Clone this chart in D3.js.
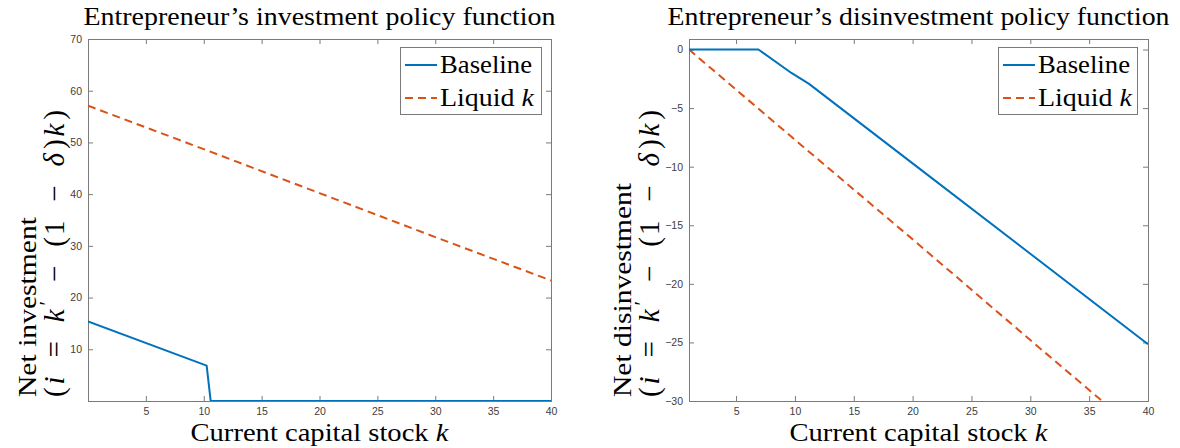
<!DOCTYPE html>
<html>
<head>
<meta charset="utf-8">
<script src="https://cdn.jsdelivr.net/npm/d3@7"></script>
<style>
  html, body { margin: 0; padding: 0; background: #fff; }
  svg { display: block; }
</style>
</head>
<body>
<svg id="chart" width="1180" height="448"></svg>
<script>
// ---- Data ----
const invBaselineK = [0, 10.25, 10.6, 40];
const invBaselineV = [15.4, 6.85, 0, 0];
const invLiquidK = [0, 10, 20, 30, 40];
const invLiquidV = [57.1, 48.7, 40.2, 31.7, 23.3];

const disBaselineK = [1, 6.9, 9.7, 11.2, 20, 30, 40];
const disBaselineV = [0, 0, -2.0, -2.93, -9.72, -17.43, -25.15];
const disLiquidK = [1, 10, 20, 30, 36.1];
const disLiquidV = [0, -7.7, -16.2, -24.8, -30];

const xTicks = [5, 10, 15, 20, 25, 30, 35, 40];
const invYTicks = [10, 20, 30, 40, 50, 60, 70];
const disYTicks = [-30, -25, -20, -15, -10, -5, 0];

const seriesNames = ["Baseline", "Liquid"];
const colors = ["#0072BD", "#D95319"];

const svg = d3.select("#chart");
const serif = "'Liberation Serif', 'DejaVu Serif', serif";
const sans = "'Liberation Sans', Arial, sans-serif";
const fs = "26px";

function panel(cfg) {
  const g = svg.append("g");
  const x = d3.scaleLinear().domain(cfg.xDomain).range([cfg.left, cfg.right]);
  const y = d3.scaleLinear().domain(cfg.yDomain).range([cfg.bottom, cfg.top]);
  const clipId = "clip" + cfg.id;
  svg.append("clipPath").attr("id", clipId).append("rect")
    .attr("x", cfg.left).attr("y", cfg.top)
    .attr("width", cfg.right - cfg.left).attr("height", cfg.bottom - cfg.top);

  // axes
  const axColor = "#7a7a7a";
  const styleAxis = sel => {
    sel.select(".domain").remove();
    sel.selectAll(".tick line").attr("stroke", axColor).attr("stroke-width", 1);
    sel.selectAll(".tick text").attr("fill", "#404040")
      .style("font-family", sans).style("font-size", "10.5px");
  };
  g.append("g").attr("transform", `translate(0,${cfg.bottom})`)
    .call(d3.axisBottom(x).tickValues(xTicks).tickSize(-5).tickPadding(7).tickFormat(d3.format("d")))
    .call(styleAxis);
  g.append("g").attr("transform", `translate(0,${cfg.top})`)
    .call(d3.axisTop(x).tickValues(xTicks).tickSize(-5).tickFormat(""))
    .call(styleAxis);
  g.append("g").attr("transform", `translate(${cfg.left},0)`)
    .call(d3.axisLeft(y).tickValues(cfg.yTicks).tickSize(-5).tickPadding(6).tickFormat(d3.format("d")))
    .call(styleAxis);
  g.append("g").attr("transform", `translate(${cfg.right},0)`)
    .call(d3.axisRight(y).tickValues(cfg.yTicks).tickSize(-5).tickFormat(""))
    .call(styleAxis);
  g.append("rect").attr("x", cfg.left + 0.5).attr("y", cfg.top + 0.5)
    .attr("width", cfg.right - cfg.left).attr("height", cfg.bottom - cfg.top)
    .attr("fill", "none").attr("stroke", axColor).attr("stroke-width", 1);

  // lines
  const line = d3.line().x(d => x(d[0])).y(d => y(d[1]));
  const plot = g.append("g").attr("clip-path", `url(#${clipId})`);
  plot.append("path").datum(cfg.liquidK.map((k, i) => [k, cfg.liquidV[i]]))
    .attr("d", line).attr("fill", "none").attr("stroke", colors[1])
    .attr("stroke-width", 2).attr("stroke-dasharray", "8,5");
  plot.append("path").datum(cfg.baseK.map((k, i) => [k, cfg.baseV[i]]))
    .attr("d", line).attr("fill", "none").attr("stroke", colors[0])
    .attr("stroke-width", 2).attr("stroke-linejoin", "round");

  // title
  g.append("text").attr("x", (cfg.left + cfg.right) / 2).attr("y", 25)
    .attr("text-anchor", "middle").style("font-family", serif).style("font-size", fs)
    .attr("textLength", cfg.titleLen).attr("lengthAdjust", "spacingAndGlyphs")
    .attr("fill", "#000").text(cfg.title);

  // x label
  const xl = g.append("text").attr("x", (cfg.left + cfg.right) / 2).attr("y", 441)
    .attr("text-anchor", "middle").style("font-family", serif).style("font-size", fs)
    .attr("textLength", 258).attr("lengthAdjust", "spacingAndGlyphs");
  xl.append("tspan").text("Current capital stock ");
  xl.append("tspan").style("font-style", "italic").text("k");

  // y label (two lines, rotated, bottom-aligned)
  const yStart = 397;
  g.append("text").attr("transform", `translate(${cfg.yLabX1},${yStart}) rotate(-90)`)
    .attr("text-anchor", "start").style("font-family", serif).style("font-size", fs)
    .attr("textLength", cfg.yLab1Len).attr("lengthAdjust", "spacingAndGlyphs")
    .text(cfg.yLabel);
  const yl2 = g.append("text").attr("transform", `translate(${cfg.yLabX2},${yStart}) rotate(-90)`)
    .attr("text-anchor", "start").style("font-family", serif).style("font-size", "29px")
    .attr("textLength", 287).attr("lengthAdjust", "spacing");
  const sp = 17; // math spacing around operators
  yl2.append("tspan").text("(");
  yl2.append("tspan").attr("dx", 1).style("font-style", "italic").text("i");
  yl2.append("tspan").attr("dx", sp).text("=");
  yl2.append("tspan").attr("dx", sp).style("font-style", "italic").text("k");
  yl2.append("tspan").attr("dx", 2).attr("dy", -10).style("font-size", "21px").text("\u2032");
  yl2.append("tspan").attr("dx", sp).attr("dy", 10).text("\u2212");
  yl2.append("tspan").attr("dx", sp).text("(1");
  yl2.append("tspan").attr("dx", sp).text("\u2212");
  yl2.append("tspan").attr("dx", sp).style("font-style", "italic").text("\u03B4");
  yl2.append("tspan").attr("dx", 2).text(")");
  yl2.append("tspan").attr("dx", 1).style("font-style", "italic").text("k");
  yl2.append("tspan").attr("dx", 2).text(")");

  // legend
  const lg = g.append("g");
  lg.append("rect").attr("x", cfg.legX + 0.5).attr("y", cfg.legY + 0.5)
    .attr("width", cfg.legW).attr("height", 67)
    .attr("fill", "#fff").attr("stroke", axColor).attr("stroke-width", 1);
  seriesNames.forEach((name, i) => {
    const yy = cfg.legY + 18 + i * 33;
    lg.append("line").attr("x1", cfg.legX + 5).attr("x2", cfg.legX + 37)
      .attr("y1", yy).attr("y2", yy).attr("stroke", colors[i]).attr("stroke-width", 2)
      .attr("stroke-dasharray", i === 1 ? "8,5" : null);
    const t = lg.append("text").attr("x", cfg.legX + 40).attr("y", yy + 8)
      .style("font-family", serif).style("font-size", fs)
      .attr("textLength", i === 0 ? 92 : 94).attr("lengthAdjust", "spacingAndGlyphs");
    t.append("tspan").text(name);
    if (i === 1) t.append("tspan").style("font-style", "italic").text(" k");
  });
}

panel({
  id: "inv", left: 88, right: 551, top: 39, bottom: 401,
  xDomain: [0, 40], yDomain: [0, 70], yTicks: invYTicks,
  baseK: invBaselineK, baseV: invBaselineV, liquidK: invLiquidK, liquidV: invLiquidV,
  title: "Entrepreneur\u2019s investment policy function", titleLen: 472,
  yLabel: "Net investment", yLab1Len: 180, yLabX1: 36, yLabX2: 64,
  legX: 400, legY: 47, legW: 141
});
panel({
  id: "dis", left: 689, right: 1148, top: 39, bottom: 401,
  xDomain: [1, 40], yDomain: [-30, 0.9], yTicks: disYTicks,
  baseK: disBaselineK, baseV: disBaselineV, liquidK: disLiquidK, liquidV: disLiquidV,
  title: "Entrepreneur\u2019s disinvestment policy function", titleLen: 502,
  yLabel: "Net disinvestment", yLab1Len: 214, yLabX1: 631, yLabX2: 659,
  legX: 998, legY: 47, legW: 139
});
</script>
</body>
</html>
